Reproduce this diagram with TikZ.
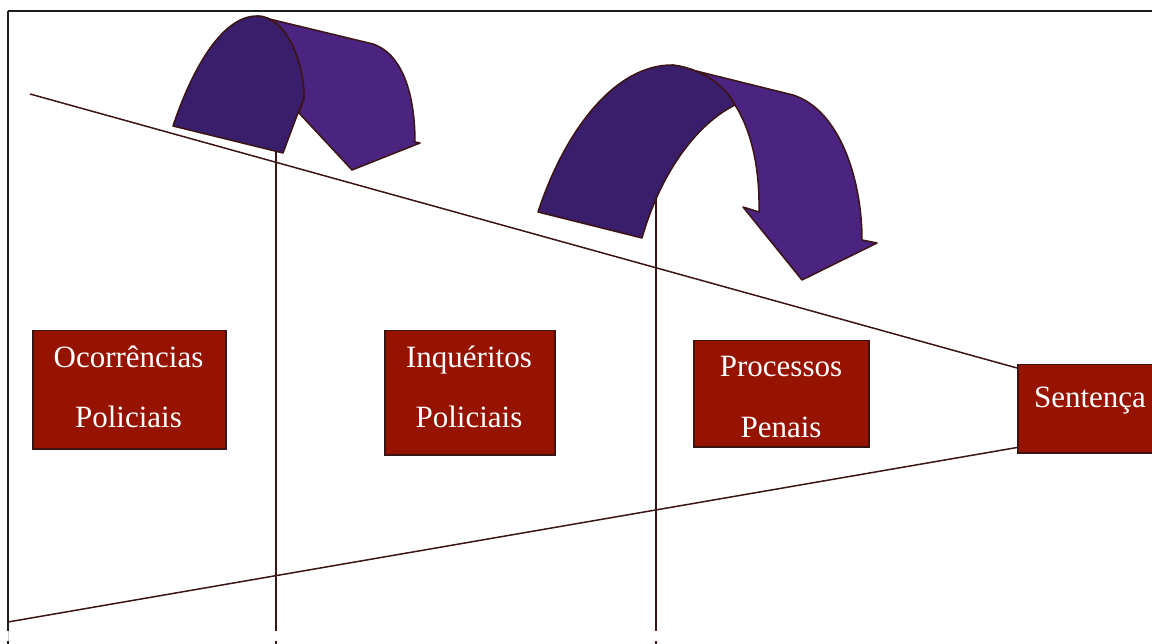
\documentclass[tikz,border=0pt]{standalone}
\usepackage{fontspec}
\setmainfont{Liberation Serif}
\usetikzlibrary{calc}
\definecolor{boxred}{RGB}{150,19,0}
\definecolor{edgebrown}{RGB}{60,20,20}
\definecolor{arrowdark}{RGB}{57,30,107}
\definecolor{arrowlight}{RGB}{74,36,128}
\definecolor{framegray}{RGB}{30,30,30}
\tikzset{
  stagebox/.style={draw=edgebrown, line width=1.5pt, fill=boxred, inner sep=0pt, anchor=north west},
  stagetext/.style={text=white, font=\fontsize{31}{31}\selectfont, anchor=base, inner sep=0pt},
  funnel/.style={draw=edgebrown, line width=1.5pt},
  divider/.style={draw=edgebrown, line width=1.3pt},
  arrowfront/.style={fill=arrowdark, draw=edgebrown, line width=1.5pt, line join=round},
  arrowback/.style={fill=arrowlight, draw=edgebrown, line width=1.5pt, line join=round},
  frameline/.style={draw=framegray, line width=1.6pt}
}
\begin{document}
\begin{tikzpicture}[x=1pt,y=-1pt]
\useasboundingbox (0,0) rectangle (1152,644);
% frame
\draw[frameline] (8,11) -- (1160,11);
\draw[frameline] (8,11) -- (8,631);
\draw[draw=gray!40, line width=1pt] (8,631) -- (8,641);
\draw[frameline] (8,641) -- (8,646);
\draw[divider] (276,641) -- (276,646);
\draw[divider] (656,641) -- (656,646);

% boxes
\node[stagebox, minimum width=193pt, minimum height=118pt] (occ) at (32,330) {};
\node[stagebox, minimum width=170pt, minimum height=124pt] (inq) at (384,330) {};
\node[stagebox, minimum width=175pt, minimum height=106pt] (proc) at (693,340) {};
\node[stagebox, minimum width=150pt, minimum height=88pt] (sent) at (1017,364) {};

\node[stagetext] (occ1) at (128.5,368) {Ocorrências};
\node[stagetext] (occ2) at (128.5,428) {Policiais};
\node[stagetext] (inq1) at (469,368) {Inquéritos};
\node[stagetext] (inq2) at (469,428) {Policiais};
\node[stagetext] (proc1) at (781,377) {Processos};
\node[stagetext] (proc2) at (781,438) {Penais};
\node[stagetext] (sent1) at (1090,408) {Sentença};

% funnel lines
\coordinate (ftop) at (30,94);
\coordinate (fbot) at (8,622);
\coordinate (stop) at ($(sent.north west)+(0,4)$);
\coordinate (sbot) at ($(sent.south west)+(0,-6)$);
\draw[funnel] (ftop) -- (stop);
\draw[funnel] (fbot) -- (sbot);

% dividers
\coordinate (d1top) at (276,150);
\coordinate (d1bot) at (276,631);
\coordinate (d2top) at (656,196);
\coordinate (d2bot) at (656,631);
\draw[divider] (d1top) -- (d1bot);
\draw[divider] (d2top) -- (d2bot);

% small arrow
\draw[arrowback] (257,16) -- (373,44) .. controls (405,55) and (415,100) .. (415,142)
  -- (420,143) -- (352,170) -- (299,113) -- (304,98)
  .. controls (304,60) and (285,16) .. (257,16) -- cycle;
\draw[arrowfront] (173,126) .. controls (190,75) and (220,16) .. (257,16)
  .. controls (285,16) and (304,60) .. (304,98)
  .. controls (296,118) .. (283,153) -- cycle;

% big arrow
\draw[arrowback] (672,65) -- (793,95) .. controls (840,110) and (862,180) .. (862,240)
  -- (877,243) -- (802,280) -- (743,207) -- (759,212)
  .. controls (760,160) and (748,125) .. (735,105)
  .. controls (725,85) and (700,68) .. (672,65) -- cycle;
\draw[arrowfront] (538,212) .. controls (565,130) and (615,65) .. (672,65)
  .. controls (700,68) and (725,85) .. (735,105)
  .. controls (695,125) and (660,175) .. (642,238) -- cycle;
\end{tikzpicture}
\end{document}
